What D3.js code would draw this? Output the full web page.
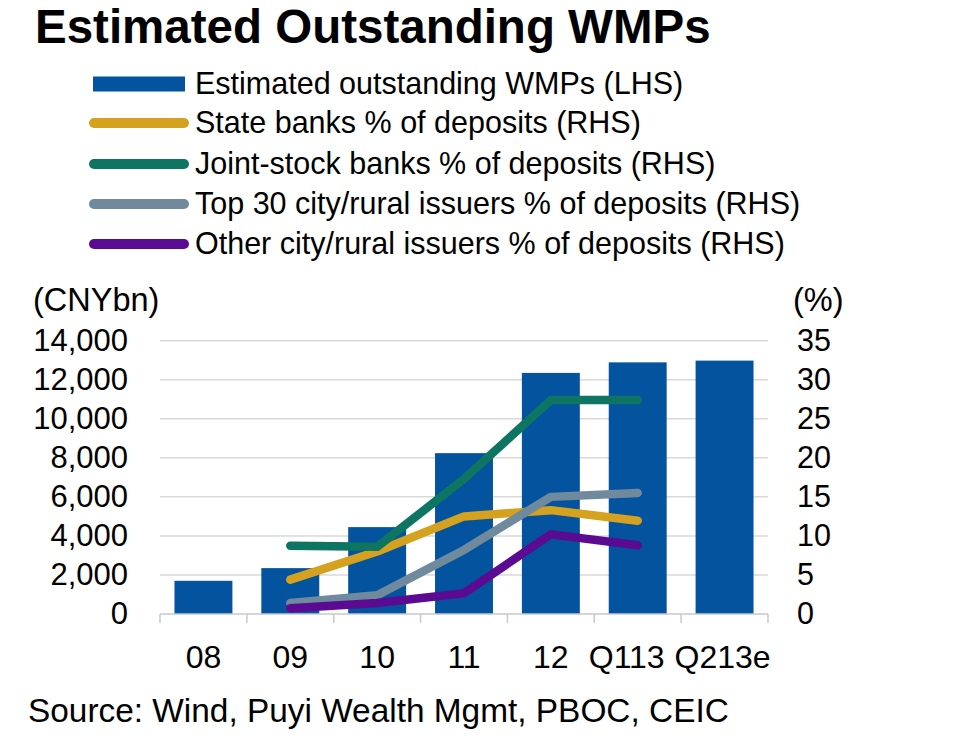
<!DOCTYPE html>
<html><head><meta charset="utf-8">
<script src="https://cdn.jsdelivr.net/npm/d3@7"></script>
<style>body{margin:0;background:#fff}svg{display:block;font-family:"Liberation Sans",Arial,sans-serif}</style>
</head><body>
<svg id="c" width="960" height="748"></svg>
<script>
const categories = ["08","09","10","11","12","Q113","Q213e"];
const wmpValues = [1700, 2350, 4450, 8240, 12350, 12890, 12980];
const stateBanks = [null, 4.4, 8.0, 12.5, 13.3, 11.95];
const jointStock = [null, 8.75, 8.6, 17.3, 27.4, 27.4];
const top30 = [null, 1.4, 2.4, 8.2, 15.0, 15.5];
const otherCity = [null, 0.75, 1.4, 2.65, 10.2, 8.8];
const leftTicks = [0,2000,4000,6000,8000,10000,12000,14000];
const rightTicks = [0,5,10,15,20,25,30,35];
const lineSeries = [
  {name:"State banks % of deposits (RHS)", values: stateBanks, color:"#D4A21F"},
  {name:"Joint-stock banks % of deposits (RHS)", values: jointStock, color:"#0D7561"},
  {name:"Top 30 city/rural issuers % of deposits (RHS)", values: top30, color:"#6E8A9C"},
  {name:"Other city/rural issuers % of deposits (RHS)", values: otherCity, color:"#5A0B92"}
];
const barName = "Estimated outstanding WMPs (LHS)";
const barColor = "#03539E";

const svg = d3.select("#c");
const L = 160, R = 768, T = 340.7, B = 614;
const x = d3.scaleBand().domain(categories).range([L,R]).paddingInner(0.333).paddingOuter(0.1667);
const yL = d3.scaleLinear().domain([0,14000]).range([B,T]);
const yR = d3.scaleLinear().domain([0,35]).range([B,T]);

// title
svg.append("text").attr("x",35).attr("y",43).attr("font-size",47.5).attr("font-weight","bold").attr("fill","#000").text("Estimated Outstanding WMPs");

// legend
const lg = svg.append("g");
const rowY = [84,123,164,204,244];
lg.append("rect").attr("x",93).attr("y",rowY[0]-7.5).attr("width",92).attr("height",15).attr("fill",barColor);
lg.append("text").attr("x",195).attr("y",rowY[0]+10).attr("font-size",30.5).attr("fill","#000").text(barName);
lineSeries.forEach((s,i)=>{
  const yy = rowY[i+1];
  lg.append("line").attr("x1",94).attr("x2",184).attr("y1",yy).attr("y2",yy).attr("stroke",s.color).attr("stroke-width",10).attr("stroke-linecap","round");
  lg.append("text").attr("x",195).attr("y",yy+10).attr("font-size",30.5).attr("fill","#000").text(s.name);
});

// gridlines
svg.append("g").selectAll("line").data(leftTicks.filter(d=>d>0)).join("line")
  .attr("x1",L).attr("x2",R).attr("y1",d=>yL(d)).attr("y2",d=>yL(d))
  .attr("stroke","#D9D9D9").attr("stroke-width",1.5);

// axes labels
const yAxisL = svg.append("g").attr("transform",`translate(${L},0)`)
  .call(d3.axisLeft(yL).tickValues(leftTicks).tickFormat(d3.format(",")).tickSize(0).tickPadding(32));
yAxisL.select(".domain").remove();
yAxisL.selectAll("text").attr("font-size",31).attr("fill","#000").attr("font-family","Liberation Sans, Arial, sans-serif");

const yAxisR = svg.append("g").attr("transform",`translate(${R},0)`)
  .call(d3.axisRight(yR).tickValues(rightTicks).tickSize(0).tickPadding(29));
yAxisR.select(".domain").remove();
yAxisR.selectAll("text").attr("font-size",30.5).attr("fill","#000").attr("font-family","Liberation Sans, Arial, sans-serif");

svg.append("text").attr("x",33).attr("y",311).attr("font-size",32.5).attr("fill","#000").text("(CNYbn)");
svg.append("text").attr("x",793).attr("y",311).attr("font-size",32.5).attr("fill","#000").text("(%)");

// bars
svg.append("g").selectAll("rect").data(wmpValues).join("rect")
  .attr("x",(d,i)=>x(categories[i])).attr("width",x.bandwidth())
  .attr("y",d=>yL(d)).attr("height",d=>B-yL(d)).attr("fill",barColor);

// x axis
const step = x.step();
const xg = svg.append("g");
xg.append("line").attr("x1",L).attr("x2",R).attr("y1",B).attr("y2",B).attr("stroke","#C8C8C8").attr("stroke-width",1.5);
xg.selectAll("line.t").data(d3.range(categories.length+1)).join("line").attr("class","t")
  .attr("x1",i=>L+i*step).attr("x2",i=>L+i*step).attr("y1",B).attr("y2",B+9)
  .attr("stroke","#C8C8C8").attr("stroke-width",1.5);
const labelNudge = {"Q113": -11, "Q213e": -2};
xg.selectAll("text").data(categories).join("text")
  .attr("x",d=>x(d)+x.bandwidth()/2).attr("dx",d=>labelNudge[d]||0).attr("y",668).attr("text-anchor","middle")
  .attr("font-size",32).attr("fill","#000").text(d=>d);

// lines
const line = d3.line().defined(d=>d.v!=null).x(d=>x(d.c)+x.bandwidth()/2).y(d=>yR(d.v));
lineSeries.forEach(s=>{
  const pts = s.values.map((v,i)=>({c:categories[i],v}));
  svg.append("path").attr("d",line(pts)).attr("fill","none").attr("stroke",s.color)
    .attr("stroke-width",8.5).attr("stroke-linecap","round").attr("stroke-linejoin","round");
});

// source
svg.append("text").attr("x",28).attr("y",722).attr("font-size",33.4).attr("fill","#000").text("Source: Wind, Puyi Wealth Mgmt, PBOC, CEIC");
</script>
</body></html>
